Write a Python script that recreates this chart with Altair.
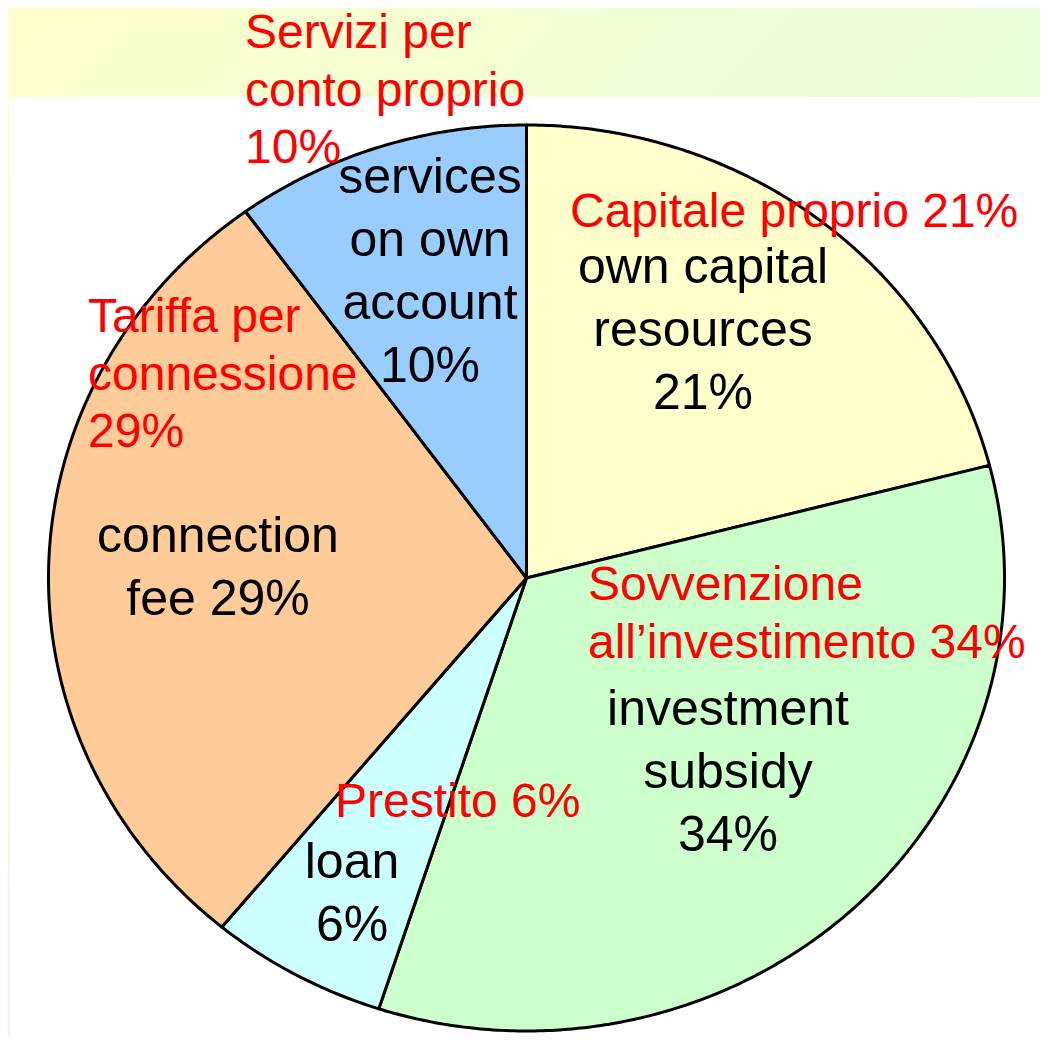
import math
import altair as alt
import pandas as pd

# ---- data (clockwise from 12 o'clock) ----
slices = ["own capital resources", "investment subsidy", "loan", "connection fee", "services on own account"]
shares = [21, 34, 6, 29, 10]
slice_colors = ["#FFFFCC", "#CCFFCC", "#CCFFFF", "#FFCC99", "#99CCFF"]

black_labels = [
    ["services", "on own", "account", "10%"],
    ["own capital", "resources", "21%"],
    ["investment", "subsidy", "34%"],
    ["connection", "fee 29%"],
    ["loan", "6%"],
]
red_labels = [
    ["Servizi per", "conto proprio", "10%"],
    ["Capitale proprio 21%"],
    ["Tariffa per", "connessione", "29%"],
    ["Sovvenzione", "all\u2019investimento 34%"],
    ["Prestito 6%"],
]

# ---- layout (pixel positions of label anchors, chart coords) ----
W, H = 1032, 1029
black_pos = [(422, 185), (695, 275), (720, 717), (210, 544), (344, 870)]
red_pos = [(237, 40), (562, 219), (80, 324), (580, 592), (327, 809)]

# ---- pie outline points computed from shares (unit ellipse, mapped by scales) ----
rows = []
total = sum(shares)
start = 0.0
for name, val in zip(slices, shares):
    end = start + val / total * 360.0
    i = 0
    rows.append({"slice": name, "i": i, "ux": 0.0, "uy": 0.0})
    i += 1
    n = max(2, int((end - start) / 0.5) + 1)
    for k in range(n + 1):
        a = math.radians(start + (end - start) * k / n)
        rows.append({"slice": name, "i": i, "ux": math.sin(a), "uy": math.cos(a)})
        i += 1
    rows.append({"slice": name, "i": i, "ux": 0.0, "uy": 0.0})
    start = end
pie_df = pd.DataFrame(rows)

dummy = pd.DataFrame({"d": [0]})

bg = alt.Chart(dummy).mark_rect(
    color=alt.LinearGradient(
        gradient="linear",
        stops=[alt.GradientStop(color="#FFFFCC", offset=0),
               alt.GradientStop(color="#D2FCE6", offset=1)],
        x1=0, y1=0, x2=1, y2=1,
    )
).encode(x=alt.value(0), x2=alt.value(W), y=alt.value(0), y2=alt.value(H))

white = alt.Chart(dummy).mark_rect(color="white").encode(
    x=alt.value(2), x2=alt.value(W), y=alt.value(89), y2=alt.value(H)
)

cx, cy, rx, ry = 518.5, 570.0, 478.0, 453.0
pie = alt.Chart(pie_df).mark_line(
    stroke="black", strokeWidth=3, strokeJoin="round", interpolate="linear"
).encode(
    x=alt.X("ux:Q", axis=None, scale=alt.Scale(domain=[-1, 1], range=[cx - rx, cx + rx], nice=False, zero=False)),
    y=alt.Y("uy:Q", axis=None, scale=alt.Scale(domain=[-1, 1], range=[cy + ry, cy - ry], nice=False, zero=False)),
    fill=alt.Fill("slice:N", scale=alt.Scale(domain=slices, range=slice_colors), legend=None),
    detail="slice:N",
    order=alt.Order("i:Q"),
)

layers = [bg, white, pie]
for lines, (px, py) in zip(black_labels, black_pos):
    layers.append(
        alt.Chart(dummy).mark_text(
            text=lines, font="Liberation Sans", fontSize=50, lineHeight=63,
            align="center", baseline="alphabetic", color="black",
        ).encode(x=alt.value(px), y=alt.value(py))
    )
for lines, (px, py) in zip(red_labels, red_pos):
    layers.append(
        alt.Chart(dummy).mark_text(
            text=lines, font="Liberation Sans", fontSize=48, lineHeight=57.5,
            align="left", baseline="alphabetic", color="#FF0000",
        ).encode(x=alt.value(px), y=alt.value(py))
    )

chart = alt.layer(*layers).properties(
    width=W, height=H, padding=0, autosize=alt.AutoSizeParams(type="none")
).configure_view(stroke=None)

chart.save("out.html", embed_options={"renderer": "svg", "actions": False})
